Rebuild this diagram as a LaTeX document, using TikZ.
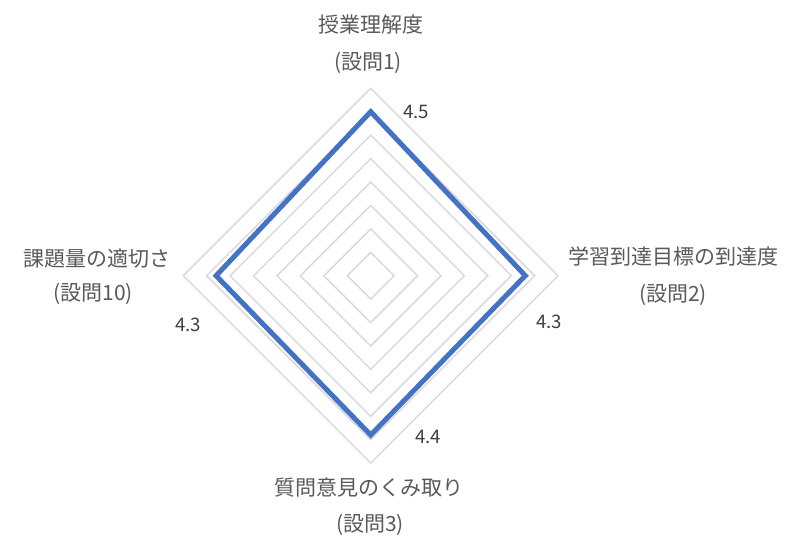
\documentclass[tikz,border=0pt]{standalone}
\usepackage{fontspec}
\newfontfamily\jpfont{Noto Sans CJK JP}
\usetikzlibrary{positioning}
\definecolor{ringgray}{HTML}{D9D9D9}
\definecolor{seriesblue}{HTML}{4472C4}
\definecolor{labelgray}{HTML}{595959}
\definecolor{valuegray}{HTML}{404040}

\begin{document}
\begin{tikzpicture}[x=0.75pt,y=-0.75pt,
  ring/.style={draw=ringgray,line width=1.1pt},
  series/.style={draw=seriesblue,line width=3.75pt,line join=miter},
  cat/.style={font=\jpfont\fontsize{15.75}{18}\selectfont,text=labelgray,inner sep=0pt},
  val/.style={font=\jpfont\fontsize{14}{16}\selectfont,text=valuegray,inner sep=0pt}]

  \useasboundingbox (0,0) rectangle (791,537);
  \coordinate (c) at (370.7,275.7);

  \draw[ring] (c) ++(0,-23.4) -- ++(23.4,23.4) -- ++(-23.4,23.4) -- ++(-23.4,-23.4) -- cycle;
  \draw[ring] (c) ++(0,-46.85) -- ++(46.85,46.85) -- ++(-46.85,46.85) -- ++(-46.85,-46.85) -- cycle;
  \draw[ring] (c) ++(0,-70.3) -- ++(70.3,70.3) -- ++(-70.3,70.3) -- ++(-70.3,-70.3) -- cycle;
  \draw[ring] (c) ++(0,-93.7) -- ++(93.7,93.7) -- ++(-93.7,93.7) -- ++(-93.7,-93.7) -- cycle;
  \draw[ring] (c) ++(0,-117.1) -- ++(117.1,117.1) -- ++(-117.1,117.1) -- ++(-117.1,-117.1) -- cycle;
  \draw[ring] (c) ++(0,-140.6) -- ++(140.6,140.6) -- ++(-140.6,140.6) -- ++(-140.6,-140.6) -- cycle;
  \draw[ring] (c) ++(0,-164) -- ++(164,164) -- ++(-164,164) -- ++(-164,-164) -- cycle;
  \draw[ring] (c) ++(0,-187.4) -- ++(187.4,187.4) -- ++(-187.4,187.4) -- ++(-187.4,-187.4) -- cycle;

  \coordinate (p1) at (370.7,111.7);
  \coordinate (p2) at (525.3,275.7);
  \coordinate (p3) at (370.7,435.0);
  \coordinate (p4) at (216.1,275.7);
  \draw[series] (p1) -- (p2) -- (p3) -- (p4) -- cycle;

  \node[val] (v1) at (416,111.7) {4.5};
  \node[val] (v2) at (549,321.7) {4.3};
  \node[val] (v3) at (428,437.3) {4.4};
  \node[val] (v4) at (188,325) {4.3};

  \node[cat] (q1) at (371,25) {授業理解度};
  \node[cat] (q1n) at (368,63) {(設問1)};
  \node[cat] (q2) at (673,256.7) {学習到達目標の到達度};
  \node[cat] (q2n) at (673,295) {(設問2)};
  \node[cat] (q3) at (369,488) {質問意見のくみ取り};
  \node[cat] (q3n) at (370,525) {(設問3)};
  \node[cat] (q10) at (96.7,258.3) {課題量の適切さ};
  \node[cat] (q10n) at (93,294) {(設問10)};

\end{tikzpicture}
\end{document}
